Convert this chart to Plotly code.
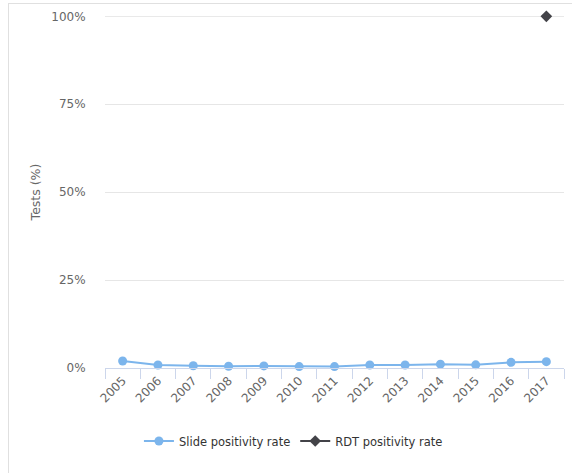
import plotly.graph_objects as go

years = ["2005", "2006", "2007", "2008", "2009", "2010", "2011",
         "2012", "2013", "2014", "2015", "2016", "2017"]
slide_rate = [2.0, 0.85, 0.65, 0.5, 0.6, 0.4, 0.4, 0.85, 0.85, 1.1, 0.9, 1.6, 1.8]
rdt_rate = [None] * 12 + [100]
y_ticks = [0, 25, 50, 75, 100]
y_tick_labels = ["0%", "25%", "50%", "75%", "100%"]

W, H = 572, 473
L, R, T, B = 105, 8, 16, 105
pw, ph = W - L - R, H - T - B

font = "DejaVu Sans"

fig = go.Figure()
fig.add_trace(go.Scatter(
    x=years, y=slide_rate, name="Slide positivity rate", mode="lines+markers",
    line=dict(color="#7cb5ec", width=2),
    marker=dict(symbol="circle", size=9, color="#7cb5ec"),
    cliponaxis=False,
))
fig.add_trace(go.Scatter(
    x=years, y=rdt_rate, name="RDT positivity rate", mode="lines+markers",
    line=dict(color="#434348", width=2),
    marker=dict(symbol="diamond", size=9, color="#434348"),
    cliponaxis=False,
))

def px_x(p):
    return (p - L) / pw

def px_y(p):
    return 1 - (p - T) / ph

fig.add_shape(type="line", xref="paper", yref="paper",
              x0=px_x(8.5), x1=px_x(8.5), y0=px_y(3), y1=px_y(H),
              line=dict(color="#e0e0e0", width=1))
fig.add_shape(type="line", xref="paper", yref="paper",
              x0=px_x(8.5), x1=px_x(W), y0=px_y(3.5), y1=px_y(3.5),
              line=dict(color="#e0e0e0", width=1))
# top gridline (at the range edge)
fig.add_shape(type="line", xref="paper", yref="y", layer="below",
              x0=0, x1=1, y0=y_ticks[-1], y1=y_ticks[-1],
              line=dict(color="#e6e6e6", width=1))

fig.update_layout(
    width=W, height=H,
    margin=dict(l=L, r=R, t=T, b=B, autoexpand=False),
    paper_bgcolor="white", plot_bgcolor="white",
    font=dict(family=font, size=12, color="#666666"),
    showlegend=True,
    legend=dict(orientation="h", xref="container", x=0.513, xanchor="center",
                yref="container", y=1 - 441 / H, yanchor="middle",
                itemwidth=30, entrywidthmode="pixels",
                font=dict(size=11.5, color="#333333")),
    xaxis=dict(
        type="category", range=[-0.5, 12.5], tickangle=-45, automargin=False,
        showgrid=False, showline=True, linecolor="#ccd6eb", linewidth=1,
        ticks="outside", tickson="boundaries", ticklen=10, tickcolor="#ccd6eb",
        tickfont=dict(size=12, color="#666666"), zeroline=False,
    ),
    yaxis=dict(
        range=[0, 100.1], tickvals=y_ticks, ticktext=y_tick_labels, automargin=False,
        showgrid=True, gridcolor="#e6e6e6", gridwidth=1, zeroline=False,
        showline=False, ticks="outside", ticklen=16, tickcolor="rgba(0,0,0,0)",
        tickfont=dict(size=12, color="#666666"),
        title=dict(text="Tests (%)", font=dict(size=12.5, color="#666666"), standoff=7),
    ),
)

fig.write_html(
    "out.html",
    config={"displayModeBar": False},
    post_script="document.body.style.margin='0';document.body.style.overflow='hidden';",
)
